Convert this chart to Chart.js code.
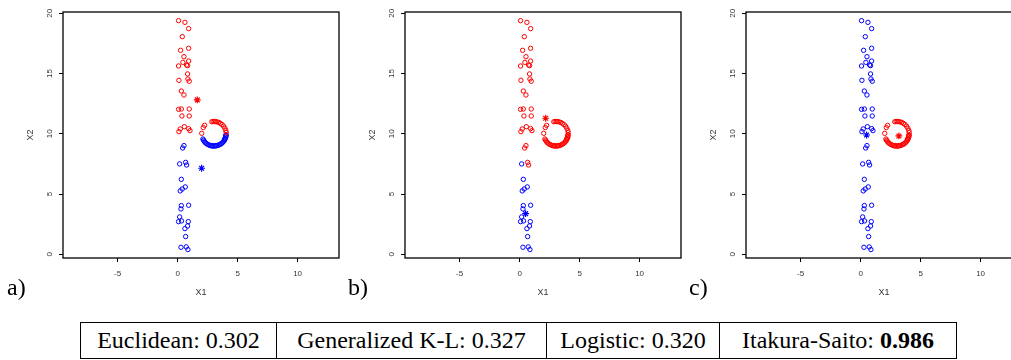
<!DOCTYPE html>
<html>
<head>
<meta charset="utf-8">
<script src="https://cdn.jsdelivr.net/npm/chart.js@4"></script>
<style>
  html, body { margin: 0; padding: 0; background: #fff; overflow: hidden; }
  body { width: 1011px; height: 360px; position: relative; }
  .panel { position: absolute; top: 0; }
  .tag { position: absolute; top: 272px; font-family: "Liberation Serif", serif; font-size: 24px; line-height: 30px; color: #000; }
  table { position: absolute; left: 80px; top: 322px; border-collapse: collapse; font-family: "Liberation Serif", serif; font-size: 24px; }
  td { border: 1px solid #000; height: 35px; padding: 0; text-align: center; white-space: nowrap; line-height: 35px; }
</style>
</head>
<body>
<canvas id="chartA" class="panel" style="left:0px" width="345" height="300"></canvas>
<canvas id="chartB" class="panel" style="left:342px" width="345" height="300"></canvas>
<canvas id="chartC" class="panel" style="left:683px" width="345" height="300"></canvas>
<div class="tag" style="left:7px">a)</div>
<div class="tag" style="left:348px">b)</div>
<div class="tag" style="left:689px">c)</div>
<table>
  <tr>
    <td style="width:195px">Euclidean: 0.302</td>
    <td style="width:269px">Generalized K-L: 0.327</td>
    <td style="width:172px">Logistic: 0.320</td>
    <td style="width:236px">Itakura-Saito: <b>0.986</b></td>
  </tr>
</table>
<script>
// vertical column of points (top to bottom)
let colX = [0.08,0.61,0.92,0.39,0.25,0.92,0.53,0.44,0.92,0.08,0.75,0.83,0.83,0.86,0.97,0.11,0.31,0.53,0.08,0.31,
            0.97,0.36,0.97,0.56,0.22,0.92,1.03,0.11,0.53,0.42,0.17,0.67,0.75,0.31,0.22,0.39,0.64,0.31,0.92,0.28,
            0.17,0.08,0.33,0.89,0.83,0.61,0.67,0.28,0.72,0.86];
let colY = [19.39,19.25,18.73,18.06,16.93,17.10,16.40,15.93,16.04,15.63,15.71,15.66,14.97,14.55,14.36,14.44,13.55,13.22,12.03,12.06,
            12.06,11.48,11.48,10.59,10.40,10.43,10.26,10.18,9.02,8.82,7.50,7.63,7.41,6.22,5.26,5.42,5.59,4.04,4.07,3.76,
            3.10,2.71,2.77,2.71,2.35,2.13,1.47,0.58,0.61,0.39];

// ring: upper arc first (15), then lower arc (30)
let ringX = [2.01,2.14,2.25,2.85,2.96,3.07,3.17,3.29,3.43,3.56,3.70,3.83,3.94,4.02,4.05,
             2.11,2.16,2.22,2.28,2.36,2.44,2.54,2.63,2.73,2.84,2.89,2.94,3.05,3.15,3.20,
             3.26,3.36,3.46,3.56,3.64,3.73,3.80,3.87,3.91,3.92,3.97,4.01,4.03,4.00,4.05];
let ringY = [10.04,10.52,10.70,11.00,11.02,11.02,11.01,10.99,10.94,10.87,10.77,10.63,10.46,10.27,10.10,
             9.57,9.47,9.39,9.30,9.23,9.16,9.11,9.06,9.02,9.00,9.03,8.98,8.98,8.99,9.03,
             9.01,9.04,9.08,9.13,9.19,9.25,9.33,9.41,9.57,9.51,9.60,9.70,9.81,9.86,9.91];

// cluster of each point, r = red, b = blue
let colGroupsA  = "rrrrrrrrrr rrrrrrrrrr rrrrrrrr bbbbbbbbbb bbbbbbbbbb bb";
let colGroupsB  = "rrrrrrrrrr rrrrrrrrrr rrrrrrrrrr brrbbbbbbb bbbbbbbbbb";
let colGroupsC  = "bbbbbbbbbb bbbbbbbbbb bbbbbbbbbb bbbbbbbbbb bbbbbbbbbb";
let ringGroupsA = "rrrrrrrrrr rrrrr bbbbbbbbbb bbbbbbbbbb bbbbbbbbbb";
let ringGroupsB = "rrrrrrrrrr rrrrr rrrrrrrrrr rrrrrrrrrr rrrrrrrrrr";
let ringGroupsC = ringGroupsB;

// cluster centres (asterisks)
let redStarA = [1.64, 12.81], blueStarA = [2.00, 7.14];
let redStarB = [2.17, 11.29], blueStarB = [0.50, 3.37];
let redStarC = [3.19, 9.82],  blueStarC = [0.50, 9.90];

let xTicks = [-5, 0, 5, 10];
let yTicks = [0, 5, 10, 15, 20];

const RED = "#ff0000";
const BLUE = "#0000ff";
const axisFont = { family: "Liberation Sans", size: 8 };

const boxPlugin = {
  id: "box",
  afterDraw(chart) {
    const a = chart.chartArea;
    const ctx = chart.ctx;
    ctx.save();
    ctx.strokeStyle = "#000";
    ctx.lineWidth = 1.3;
    ctx.strokeRect(a.left, a.top, a.right - a.left, a.bottom - a.top);
    ctx.restore();
  }
};

function circles(data, color) {
  return { data, pointStyle: "circle", pointRadius: 2.2, pointBorderWidth: 1.0,
           borderColor: color, backgroundColor: "rgba(0,0,0,0)", showLine: false };
}
function star(p, color) {
  return { data: [{ x: p[0], y: p[1] }], pointStyle: "star", pointRadius: 3.4, pointBorderWidth: 1.2,
           borderColor: color, backgroundColor: color, showLine: false };
}

function makePanel(id, colGroups, ringGroups, redStar, blueStar) {
  let xs = colX.concat(ringX);
  let ys = colY.concat(ringY);
  let groups = (colGroups + ringGroups).replace(/ /g, "");
  let red = [], blue = [];
  for (let i = 0; i < xs.length; i++) {
    let p = { x: xs[i], y: ys[i] };
    if (groups[i] === "r") red.push(p); else blue.push(p);
  }

  new Chart(document.getElementById(id), {
    type: "scatter",
    data: { datasets: [circles(red, RED), circles(blue, BLUE), star(redStar, RED), star(blueStar, BLUE)] },
    options: {
      responsive: false,
      animation: false,
      events: [],
      layout: { padding: { left: 0, top: 12, right: 6, bottom: 0 } },
      plugins: { legend: { display: false }, tooltip: { enabled: false } },
      scales: {
        x: {
          type: "linear", min: -9.55, max: 13.45,
          afterBuildTicks: s => { s.ticks = xTicks.map(v => ({ value: v })); },
          afterFit: s => { s.height = 42; },
          grid: { drawOnChartArea: false, drawTicks: true, tickLength: 4, color: "#000", lineWidth: 1 },
          border: { display: false },
          ticks: { font: axisFont, color: "#333", padding: 7, maxRotation: 0, autoSkip: false },
          title: { display: true, text: "X1", font: { family: "Liberation Sans", size: 9 }, color: "#333",
                   padding: { top: 0, bottom: 2.3 } }
        },
        y: {
          type: "linear", min: -0.31, max: 20.11,
          afterBuildTicks: s => { s.ticks = yTicks.map(v => ({ value: v })); },
          afterFit: s => { s.width = 63; },
          grid: { drawOnChartArea: false, drawTicks: true, tickLength: 4, color: "#000", lineWidth: 1 },
          border: { display: false },
          ticks: { font: axisFont, color: "#333", padding: 4.5, minRotation: 90, maxRotation: 90,
                   crossAlign: "center", autoSkip: false },
          title: { display: true, text: "X2", font: { family: "Liberation Sans", size: 9 }, color: "#333",
                   padding: { top: 25.6, bottom: 0 } }
        }
      }
    },
    plugins: [boxPlugin]
  });
}

makePanel("chartA", colGroupsA, ringGroupsA, redStarA, blueStarA);
makePanel("chartB", colGroupsB, ringGroupsB, redStarB, blueStarB);
makePanel("chartC", colGroupsC, ringGroupsC, redStarC, blueStarC);
</script>
</body>
</html>
